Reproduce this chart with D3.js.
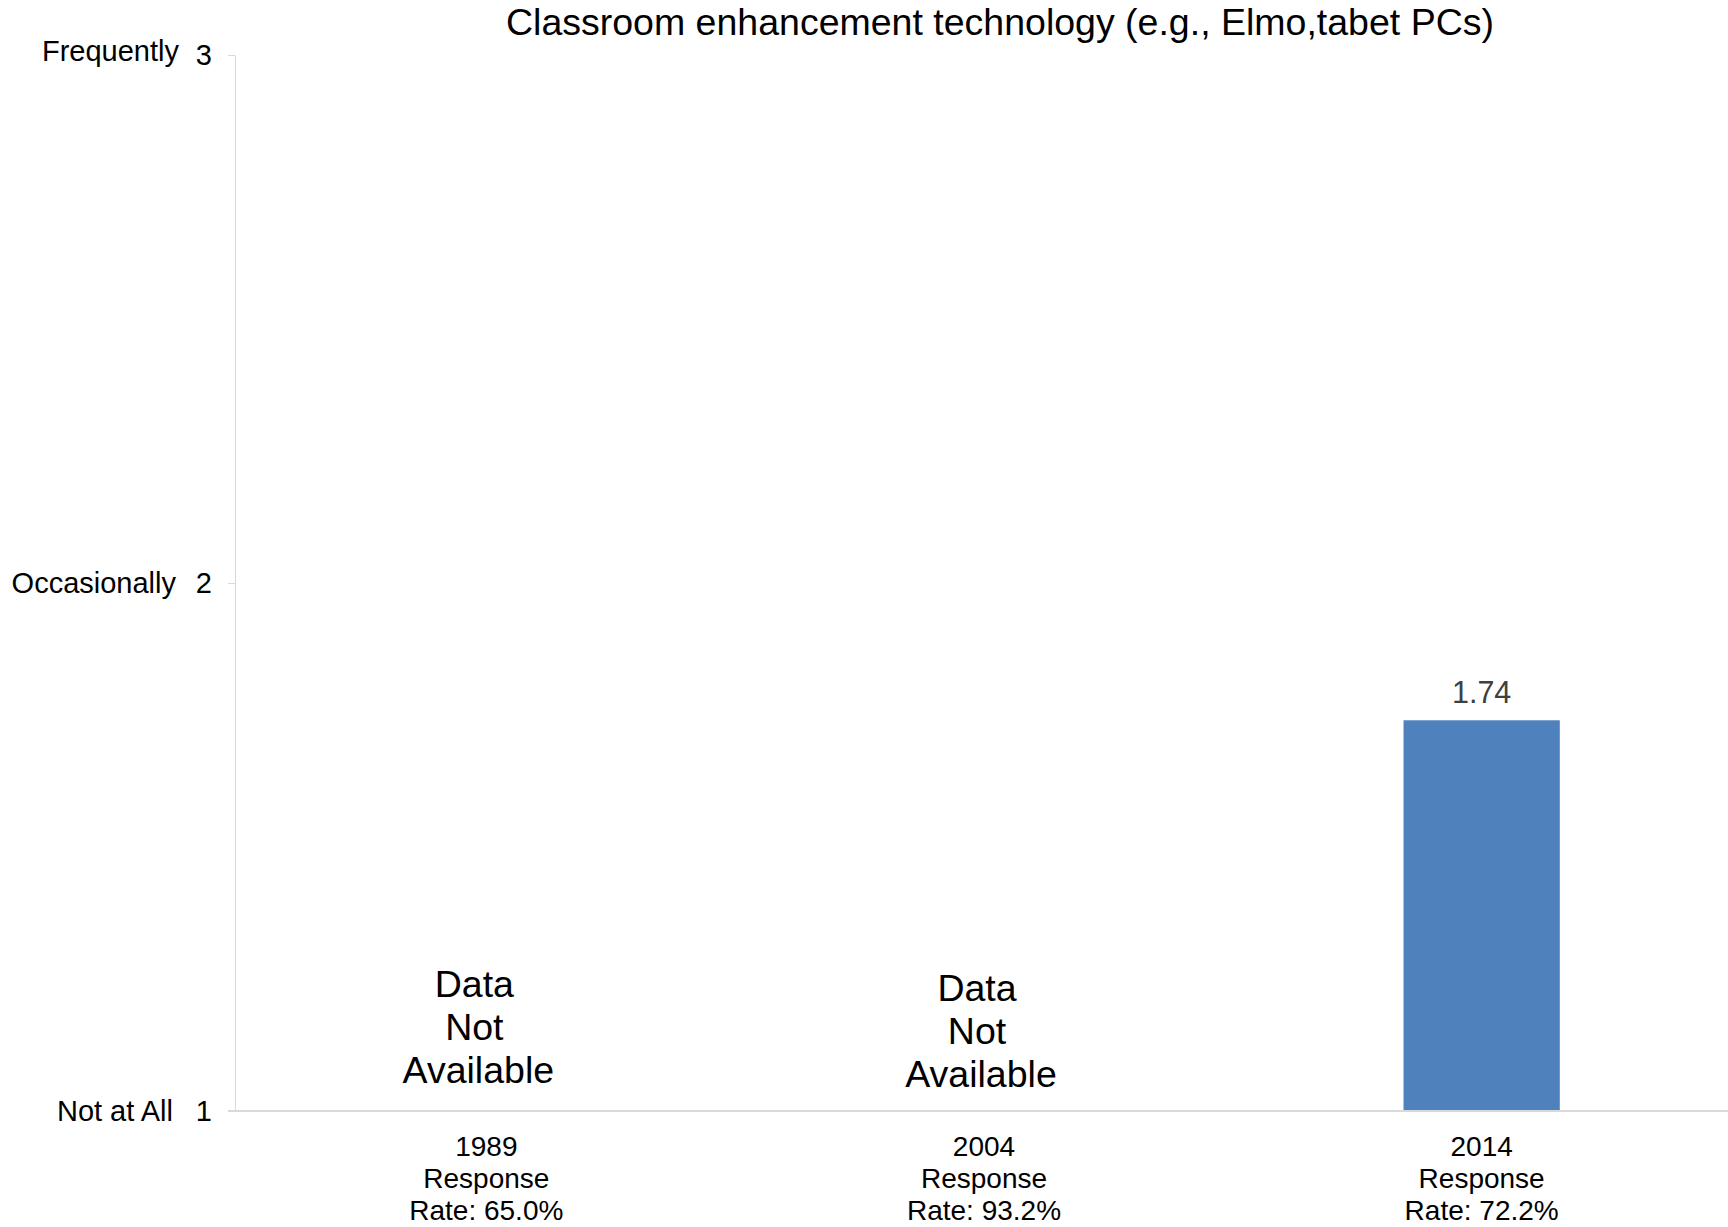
<!DOCTYPE html>
<html>
<head>
<meta charset="utf-8">
<script src="https://cdn.jsdelivr.net/npm/d3@7"></script>
<style>
  html, body { margin: 0; padding: 0; background: #fff; }
  svg { display: block; font-family: "Liberation Sans", Arial, sans-serif; }
</style>
</head>
<body>
<svg id="chart" width="1728" height="1227"></svg>
<script>
const title = "Classroom enhancement technology (e.g., Elmo,tabet PCs)";
const categories = ["1989", "2004", "2014"];
const responseRates = ["65.0%", "93.2%", "72.2%"];
const values = [null, null, 1.74];
const yTicks = [1, 2, 3];
const yTickLabels = ["Not at All", "Occasionally", "Frequently"];
const naText = ["Data", "Not", "Available"];

const W = 1728, H = 1227;
const svg = d3.select("#chart");

const y = d3.scaleLinear().domain([1, 3]).range([1111, 55]);
const x = d3.scaleBand().domain(categories).range([237.5, 1730.5])
  .paddingInner(0.686).paddingOuter(0.343);

// Title
svg.append("text")
  .attr("x", 1000).attr("y", 35)
  .attr("text-anchor", "middle")
  .attr("font-size", 37.5)
  .attr("fill", "#000")
  .text(title);

// Y axis
const yAxis = svg.append("g")
  .attr("transform", "translate(235,0)")
  .call(d3.axisLeft(y).tickValues(yTicks).tickSize(7).tickSizeOuter(0).tickPadding(16).tickFormat(d3.format("d")));
yAxis.selectAll("path.domain").attr("stroke", "#d9d9d9").attr("stroke-width", 1);
yAxis.selectAll(".tick line").attr("stroke", "#d9d9d9");
yAxis.selectAll(".tick text")
  .attr("font-size", 29)
  .attr("fill", "#000")
  .attr("font-family", "'Liberation Sans', Arial, sans-serif");

// Y category labels
const yLabelEnd = [173, 176, 179];
svg.append("g").selectAll("text")
  .data(yTicks)
  .join("text")
  .attr("x", (d, i) => yLabelEnd[i])
  .attr("y", d => y(d))
  .attr("dy", (d, i) => i === 2 ? "0.2em" : "0.33em")
  .attr("text-anchor", "end")
  .attr("font-size", 29)
  .attr("fill", "#000")
  .text((d, i) => yTickLabels[i]);

// Bars
svg.append("g").selectAll("rect")
  .data(categories.map((c, i) => ({c, v: values[i]})).filter(d => d.v != null))
  .join("rect")
  .attr("x", d => x(d.c))
  .attr("width", x.bandwidth())
  .attr("y", d => y(d.v))
  .attr("height", d => y(1) - y(d.v))
  .attr("fill", "#4f81bd");

// Value labels
svg.append("g").selectAll("text")
  .data(categories.map((c, i) => ({c, v: values[i]})).filter(d => d.v != null))
  .join("text")
  .attr("x", d => x(d.c) + x.bandwidth() / 2)
  .attr("y", d => y(d.v) - 17)
  .attr("text-anchor", "middle")
  .attr("font-size", 30.5)
  .attr("fill", "#404040")
  .text(d => d3.format(".2f")(d.v));

// Baseline (x axis)
svg.append("line")
  .attr("x1", 228).attr("x2", W)
  .attr("y1", y(1)).attr("y2", y(1))
  .attr("stroke", "#d9d9d9").attr("stroke-width", 2);

// X labels
const xl = svg.append("g").selectAll("text")
  .data(categories)
  .join("text")
  .attr("text-anchor", "middle")
  .attr("font-size", 28)
  .attr("fill", "#000");
xl.each(function(d, i) {
  const cx = x(d) + x.bandwidth() / 2;
  const lines = [d, "Response", "Rate: " + responseRates[i]];
  d3.select(this).selectAll("tspan").data(lines).join("tspan")
    .attr("x", cx)
    .attr("y", (l, j) => y(1) + 45 + j * 32)
    .text(l => l);
});

// "Data Not Available" labels
const naShiftY = [0, 4];
const naShiftX = [-12, -7];
const naG = svg.append("g");
categories.forEach((c, i) => {
  if (values[i] != null) return;
  const cx = x(c) + x.bandwidth() / 2 + naShiftX[i];
  naG.append("text")
    .attr("text-anchor", "middle")
    .attr("font-size", 37.5)
    .attr("fill", "#000")
    .selectAll("tspan").data(naText).join("tspan")
    .attr("x", (l, j) => cx + (j === 2 ? 4 : 0))
    .attr("y", (l, j) => y(1) - 114 + naShiftY[i] + j * 43)
    .text(l => l);
});
</script>
</body>
</html>
